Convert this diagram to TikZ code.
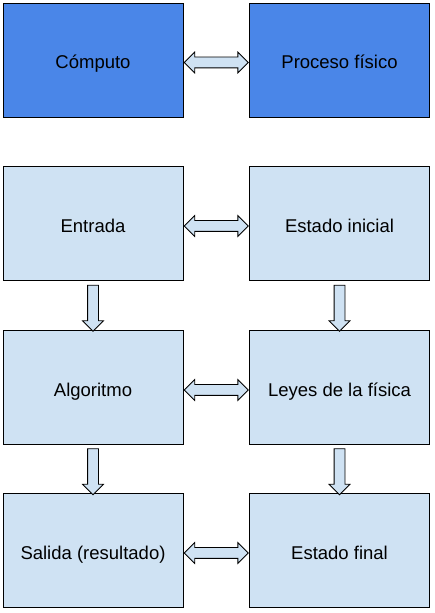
\documentclass[tikz,border=0pt]{standalone}
\usepackage{fontspec}
\setmainfont{Liberation Sans}
\usetikzlibrary{shapes.arrows,calc}
\definecolor{fisblue}{HTML}{4A86E8}
\definecolor{fislight}{HTML}{CFE2F3}
\tikzset{
  caja/.style={draw=black, line width=0.8pt, minimum width=180pt, minimum height=114pt,
    inner sep=0pt, text height=18pt, text depth=0pt, font=\fontsize{18.5}{22}\selectfont},
  cajaosc/.style={caja, fill=fisblue},
  cajaclara/.style={caja, fill=fislight},
  flechadoble/.style={double arrow, draw=black, fill=fislight, line width=0.8pt,
    inner sep=5pt, double arrow head extend=5pt, minimum height=64pt, yshift=-2.5pt},
  flechabaja/.style={single arrow, draw=black, fill=fislight, line width=0.8pt,
    inner sep=5pt, single arrow head extend=5pt, minimum height=46pt, rotate=-90}
}
\begin{document}
\begin{tikzpicture}[x=1pt,y=1pt]
      \useasboundingbox (0,0) rectangle (434,613);
      \draw
        (93,553) node[cajaosc] (computo){Cómputo}
        (339.5,553) node[cajaosc] (proceso){Proceso físico}
        (93,389.5) node[cajaclara] (entrada){Entrada}
        (339.5,389.5) node[cajaclara] (inicial){Estado inicial}
        (93,225.5) node[cajaclara] (algoritmo){Algoritmo}
        (339.5,225.5) node[cajaclara] (leyes){Leyes de la física}
        (93,62.5) node[cajaclara] (salida){Salida (resultado)}
        (339.5,62.5) node[cajaclara] (final){Estado final};
      \begin{scope}
        \node[flechadoble] (f1) at ($(computo.east)!0.5!(proceso.west)$) {};
        \node[flechadoble] (f2) at ($(entrada.east)!0.5!(inicial.west)$) {};
        \node[flechadoble] (f3) at ($(algoritmo.east)!0.5!(leyes.west)$) {};
        \node[flechadoble] (f4) at ($(salida.east)!0.5!(final.west)$) {};
        \node[flechabaja] (b1) at ($(entrada.south)!0.5!(algoritmo.north)$) {};
        \node[flechabaja] (b2) at ($(algoritmo.south)!0.5!(salida.north)$) {};
        \node[flechabaja] (b3) at ($(inicial.south)!0.5!(leyes.north)$) {};
        \node[flechabaja] (b4) at ($(leyes.south)!0.5!(final.north)$) {};
      \end{scope}
    \end{tikzpicture}
\end{document}
